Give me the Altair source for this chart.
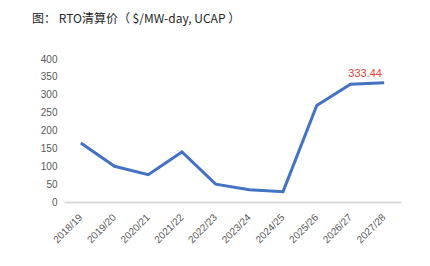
import altair as alt
import pandas as pd

years = ["2018/19", "2019/20", "2020/21", "2021/22", "2022/23", "2023/24",
         "2024/25", "2025/26", "2026/27", "2027/28"]
prices = [164.77, 100.0, 76.53, 140.0, 50.0, 34.13, 28.92, 269.92, 329.17, 333.44]
y_ticks = [0, 50, 100, 150, 200, 250, 300, 350, 400]

df = pd.DataFrame({"year": years, "price": prices})
last = df.tail(1).assign(label=["333.44"])

x = alt.X("year:N", sort=years, title=None,
          scale=alt.Scale(type="point", padding=0.5),
          axis=alt.Axis(labelAngle=-45, labelFontSize=10, labelColor="#595959",
                        labelFont="Liberation Sans", ticks=False, domainColor="#D9D9D9",
                        domainWidth=2, labelPadding=10, labelOffset=-4, grid=False,
                        labelOverlap=False))
y = alt.Y("price:Q", title=None,
          scale=alt.Scale(domain=[0, 400], nice=False),
          axis=alt.Axis(values=y_ticks, labelFontSize=10, labelColor="#595959",
                        labelFont="Liberation Sans", ticks=False, domain=False,
                        grid=False, labelPadding=7, labelOverlap=False))

line = alt.Chart(df).mark_line(color="#4472C4", strokeWidth=3).encode(x=x, y=y)
text = alt.Chart(last).mark_text(color="#E8413A", fontSize=11, font="Liberation Sans",
                                 align="center", baseline="bottom", dx=-19, dy=-4).encode(
    x=x, y=y, text="label:N")

chart = (line + text).properties(
    width=337, height=143,
    autosize=alt.AutoSizeParams(type="none"),
    padding={"left": 64, "top": 59, "right": 29, "bottom": 64},
    title=alt.TitleParams("图： RTO清算价（ $/MW-day, UCAP ）", anchor="start", frame="group",
                          dx=-32, offset=28, fontSize=12, fontWeight="normal",
                          font="Noto Sans CJK SC", color="#262626"),
).configure_view(stroke=None).configure_axis(labelOverlap=False)

chart.save("out.html", embed_options={"renderer": "svg", "actions": False})
